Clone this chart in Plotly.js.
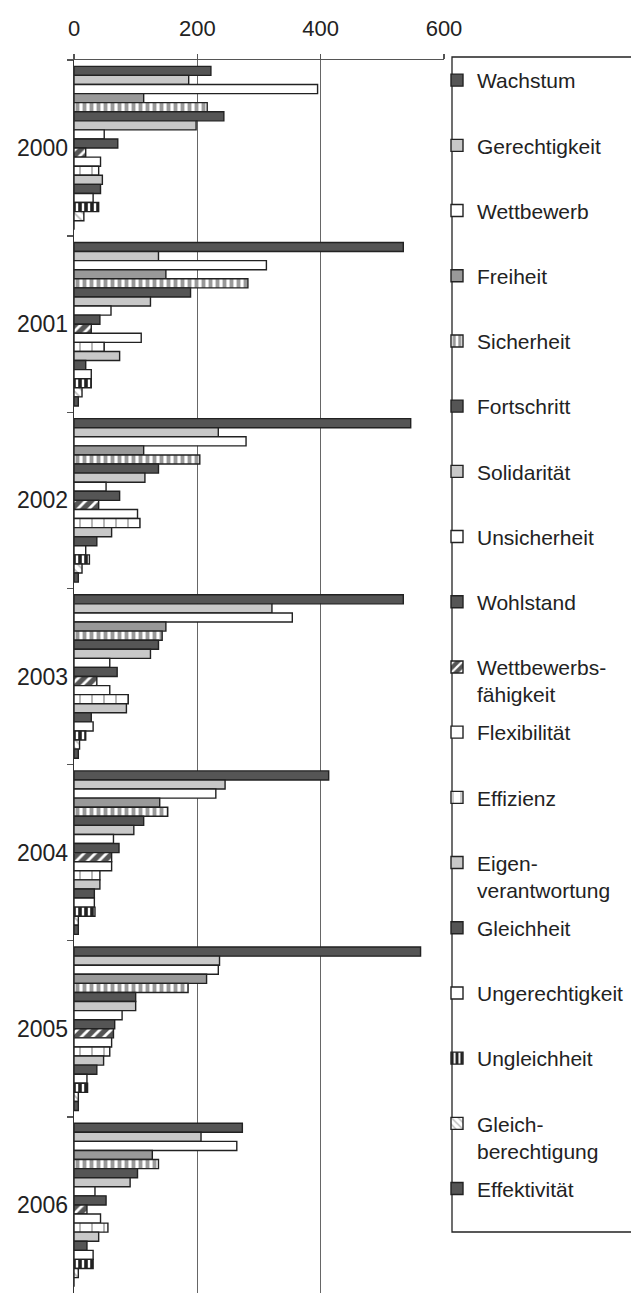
<!DOCTYPE html>
<html>
<head>
<meta charset="utf-8">
<script src="https://cdn.plot.ly/plotly-3.0.1.min.js"></script>
<style>html,body{margin:0;padding:0;background:#fff;}#chart{width:631px;height:1293px;}</style>
</head>
<body>
<div id="chart"></div>
<script>
// Years (categories)
var years = ['2000','2001','2002','2003','2004','2005','2006'];
// Series (legend order, top to bottom), values per year
var Wachstum = [222,534,546,534,413,562,273];
var Gerechtigkeit = [186,137,234,321,245,236,206];
var Wettbewerb = [395,312,279,354,230,234,264];
var Freiheit = [113,149,113,149,139,215,127];
var Sicherheit = [216,282,204,143,152,185,137];
var Fortschritt = [243,189,137,137,113,100,103];
var Solidaritaet = [198,124,115,124,97,100,91];
var Unsicherheit = [49,60,52,58,64,78,34];
var Wohlstand = [71,42,74,70,73,66,52];
var Wettbewerbsfaehigkeit = [19,28,40,37,61,64,21];
var Flexibilitaet = [43,109,103,58,61,61,43];
var Effizienz = [40,49,107,88,42,58,55];
var Eigenverantwortung = [46,74,61,85,42,48,40];
var Gleichheit = [43,19,37,28,33,37,21];
var Ungerechtigkeit = [31,28,19,31,33,21,31];
var Ungleichheit = [40,28,25,19,34,22,31];
var Gleichberechtigung = [16,13,13,9,7,7,7];
var Effektivitaet = [0,7,7,7,7,7,0];

var seriesNames = ['Wachstum','Gerechtigkeit','Wettbewerb','Freiheit','Sicherheit','Fortschritt','Solidarität','Unsicherheit','Wohlstand','Wettbewerbs-<br>fähigkeit','Flexibilität','Effizienz','Eigen-<br>verantwortung','Gleichheit','Ungerechtigkeit','Ungleichheit','Gleich-<br>berechtigung','Effektivität'];
var seriesValues = [Wachstum,Gerechtigkeit,Wettbewerb,Freiheit,Sicherheit,Fortschritt,Solidaritaet,Unsicherheit,Wohlstand,Wettbewerbsfaehigkeit,Flexibilitaet,Effizienz,Eigenverantwortung,Gleichheit,Ungerechtigkeit,Ungleichheit,Gleichberechtigung,Effektivitaet];

var DARK='#555555', LIGHT='#c8c8c8', MID='#999999', WHITE='#ffffff';
var styles = [
  {c:DARK},{c:LIGHT},{c:WHITE},{c:MID},
  {c:WHITE,p:{shape:'|',bgcolor:'#ffffff',fgcolor:'#999999',size:7,solidity:0.55}},
  {c:DARK},{c:LIGHT},{c:WHITE},{c:DARK},
  {c:DARK,p:{shape:'/',bgcolor:'#555555',fgcolor:'#ffffff',size:8,solidity:0.35}},
  {c:WHITE},
  {c:WHITE,p:{shape:'|',bgcolor:'#ffffff',fgcolor:'#888888',size:12,solidity:0.1}},
  {c:LIGHT},{c:DARK},{c:WHITE},
  {c:'#222222',p:{shape:'|',bgcolor:'#222222',fgcolor:'#ffffff',size:6,solidity:0.4}},
  {c:WHITE,p:{shape:'\\',bgcolor:'#ffffff',fgcolor:'#bbbbbb',size:6,solidity:0.3}},
  {c:DARK}
];

var traces = seriesNames.map(function(n,i){
  var label = n.indexOf('<br>')>=0 ? n : n + '<br>&nbsp;';
  var m = {color: styles[i].c, line:{color:'#222222', width:1.4}};
  if (styles[i].p) m.pattern = styles[i].p;
  return {type:'bar', orientation:'h', name: label, y: years, x: seriesValues[i],
          marker: m, legendgroup: 'g'+i, hoverinfo:'x+name'};
});

var W=631, H=1293, mL=74, mR=187, mT=60, mB=0;
var pw = W-mL-mR, ph = H-mT-mB;
function px2x(p){return (p-mL)/pw;}
function py2y(p){return 1-(p-mT)/ph;}

var layout = {
  width:W, height:H,
  margin:{l:mL,r:mR,t:mT,b:mB,pad:0},
  paper_bgcolor:'#ffffff', plot_bgcolor:'#ffffff',
  font:{family:'"Liberation Sans", Arial, sans-serif', size:21, color:'#222222'},
  barmode:'group', bargap:0.072, bargroupgap:0,
  showlegend:true,
  legend:{x:px2x(437), xanchor:'left', y:1, yanchor:'top',
          traceorder:'grouped', tracegroupgap:7.6, valign:'top',
          bgcolor:'rgba(0,0,0,0)', borderwidth:0,
          font:{family:'"Liberation Sans", Arial, sans-serif', size:21, color:'#222222'}},
  xaxis:{side:'top', range:[0,600], tickvals:[0,200,400,600], ticktext:['0','200','400','600'],
         showgrid:true, gridcolor:'#666666', gridwidth:1, zeroline:false,
         showline:true, linecolor:'#555555', linewidth:1.3,
         ticks:'outside', ticklen:5, tickcolor:'#555555', tickwidth:1.3,
         ticklabelstandoff:9, tickfont:{size:22}, fixedrange:true},
  yaxis:{type:'category', autorange:'reversed', tickson:'boundaries',
         showline:true, linecolor:'#333333', linewidth:1.3, showgrid:false, zeroline:false,
         ticks:'outside', ticklen:6, tickcolor:'#555555', tickwidth:1.3,
         tickfont:{size:23}, fixedrange:true},
  shapes:[{type:'rect', xref:'paper', yref:'paper', x0:px2x(452), x1:px2x(640), y0:py2y(1232), y1:py2y(57),
           line:{color:'#222222', width:1.3}, fillcolor:'rgba(0,0,0,0)', layer:'above'}]
};

Plotly.newPlot('chart', traces, layout, {displayModeBar:false, staticPlot:true});
</script>
</body>
</html>
